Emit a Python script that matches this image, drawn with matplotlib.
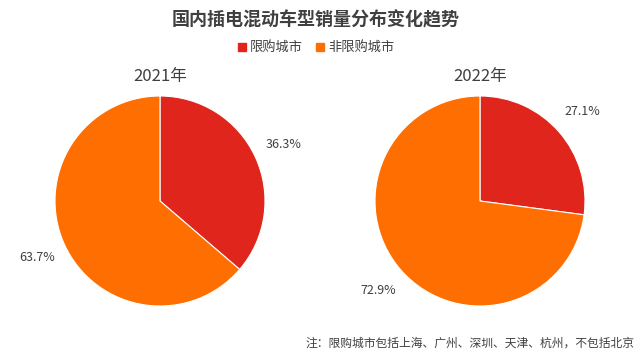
import matplotlib
matplotlib.use("Agg")
import matplotlib.pyplot as plt
from matplotlib.patches import Rectangle

plt.rcParams['font.family'] = ['Noto Sans CJK SC', 'DejaVu Sans']

title = "国内插电混动车型销量分布变化趋势"
categories = ["限购城市", "非限购城市"]
years = ["2021年", "2022年"]
values_2021 = [36.3, 63.7]
values_2022 = [27.1, 72.9]
note = "注：限购城市包括上海、广州、深圳、天津、杭州，不包括北京"

colors = ["#E0261C", "#FF6E00"]
text_color = "#404040"

W, H = 640, 360
fig = plt.figure(figsize=(6.4, 3.6), dpi=100)
fig.patch.set_facecolor("white")

fig.text(316 / W, 1 - 20 / H, title, ha="center", va="center",
         fontsize=13, fontweight="bold", color=text_color)

# legend
leg_y = 1 - 47 / H
for i, (cat, col) in enumerate(zip(categories, colors)):
    x0 = [238, 316][i]
    fig.patches.append(Rectangle((x0 / W, leg_y - 4 / H), 8 / W, 8 / H,
                                 transform=fig.transFigure, color=col))
    fig.text((x0 + 12) / W, leg_y, cat, ha="left", va="center",
             fontsize=9.5, color=text_color)

radius_px = 105
centers = [(160, 201), (480, 201)]
for (cx, cy), yr, vals in zip(centers, years, [values_2021, values_2022]):
    ax = fig.add_axes([(cx - radius_px) / W, (H - cy - radius_px) / H,
                       2 * radius_px / W, 2 * radius_px / H])
    labels = [f"{v:.1f}%" for v in vals]
    wedges, texts = ax.pie(vals, colors=colors, startangle=90, counterclock=False,
                           labels=labels, labeldistance=1.29,
                           wedgeprops=dict(edgecolor="white", linewidth=0.8),
                           textprops=dict(fontsize=9, color=text_color))
    for t in texts:
        t.set_ha("center")
        t.set_va("center")
    ax.set_xlim(-1, 1)
    ax.set_ylim(-1, 1)
    ax.set_aspect("equal")
    ax.axis("off")
    fig.text(cx / W, 1 - 77 / H, yr, ha="center", va="center",
             fontsize=12, color=text_color)

fig.text(634 / W, 1 - 343 / H, note, ha="right", va="center",
         fontsize=8.5, color=text_color)

fig.savefig("out.png", dpi=100)
